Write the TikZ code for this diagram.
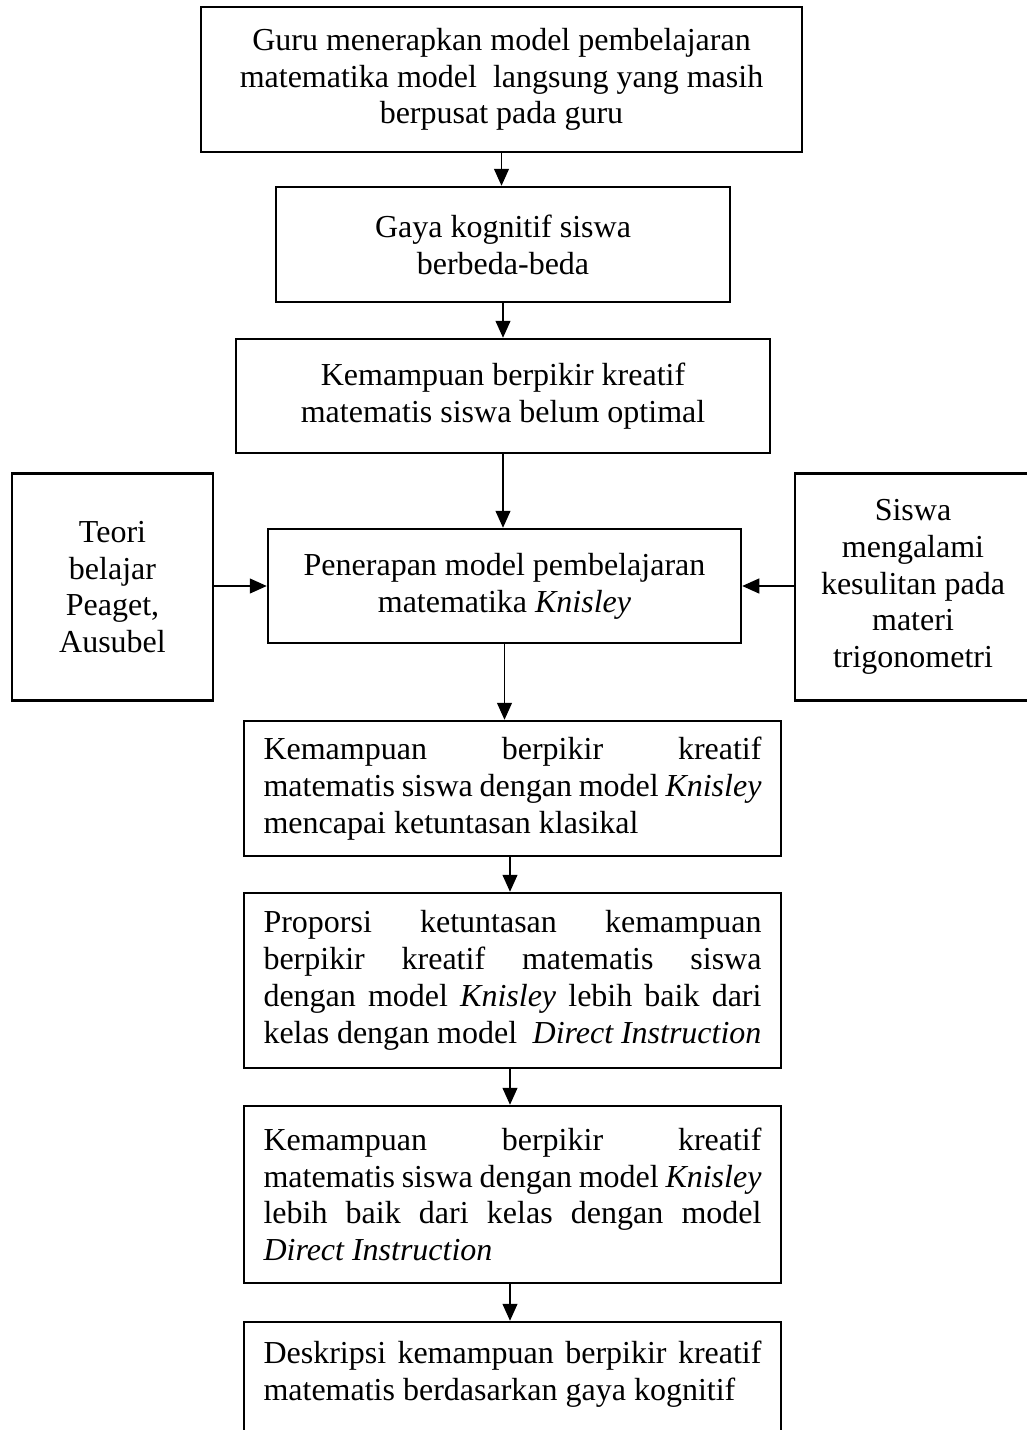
\documentclass[tikz,border=0pt]{standalone}
\usepackage{fontspec}
\setmainfont{Liberation Serif}
\usetikzlibrary{arrows.meta}
\hyphenpenalty=10000
\tolerance=10000

\begin{document}
\begin{tikzpicture}[->, >={Triangle[width=7.5pt,length=8.5pt]}, line width=0.6pt, x=0.5pt, y=-0.5pt,
		kotak/.style={draw, line width=1.25pt, inner sep=0pt, align=center, font=\fontsize{16}{18.4}\selectfont},
		rata/.style={kotak, text width=249pt, align=justify, minimum width=268.5pt}]

		\useasboundingbox (0,0) rectangle (1027,1430);

			\node (1) [kotak, minimum width=300.5pt, minimum height=72.5pt] at (501.5,79.5) {Guru menerapkan model pembelajaran\\ matematika model\ \ langsung yang masih\\ berpusat pada guru};
			\node (2) [kotak, minimum width=227pt, minimum height=57.5pt] at (503,244.5) {Gaya kognitif siswa\\ berbeda-beda};
			\node (3) [kotak, minimum width=267pt, minimum height=57pt] at (503,396) {Kemampuan berpikir kreatif\\ matematis siswa belum optimal};
			\node (4) [kotak, minimum width=236.5pt, minimum height=57pt] at (504.5,586) {Penerapan model pembelajaran\\ matematika \textit{Knisley}};
			\node (9) [kotak, minimum width=100.5pt, minimum height=113.5pt] at (112.5,587) {Teori\\ belajar\\ Peaget,\\ Ausubel};
			\node (10) [kotak, minimum width=118pt, minimum height=113.5pt] at (913,587) {Siswa\\ mengalami\\ kesulitan pada\\ materi\\ trigonometri};
			\node (5) [rata, minimum height=67.5pt] at (512.5,788.5) {Kemampuan berpikir kreatif\linebreak matematis siswa dengan model \textit{Knisley}\linebreak mencapai ketuntasan klasikal};
			\node (6) [rata, minimum height=87.5pt] at (512.5,980.5) {Proporsi ketuntasan kemampuan\linebreak berpikir kreatif matematis siswa\linebreak dengan model \textit{Knisley} lebih baik dari\linebreak kelas dengan model\ \ \textit{Direct Instruction}};
			\node (7) [rata, minimum height=88.5pt] at (512.5,1194.5) {Kemampuan berpikir kreatif\linebreak matematis siswa dengan model \textit{Knisley}\linebreak lebih baik dari kelas dengan model\linebreak \textit{Direct Instruction}};
			\node (8) [rata, minimum height=67.5pt] at (512.5,1389.5) {Deskripsi kemampuan berpikir kreatif\linebreak matematis berdasarkan gaya kognitif\\ \mbox{}};

				\path
					(1) edge (1.south |- 2.north)
					(2) edge (2.south |- 3.north)
					(3) edge (3.south |- 4.north)

					(9.east |- 4.west) edge (4.west)
					(10.west |- 4.east) edge (4.east)

					(4.south) edge (4.south |- 5.north)
					(5.south) ++(-2.5,0) coordinate (a) edge (a |- 6.north)
					(6.south) ++(-2.5,0) coordinate (b) edge (b |- 7.north)
					(7.south) ++(-2.5,0) coordinate (c) edge (c |- 8.north);

		\end{tikzpicture}
\end{document}
